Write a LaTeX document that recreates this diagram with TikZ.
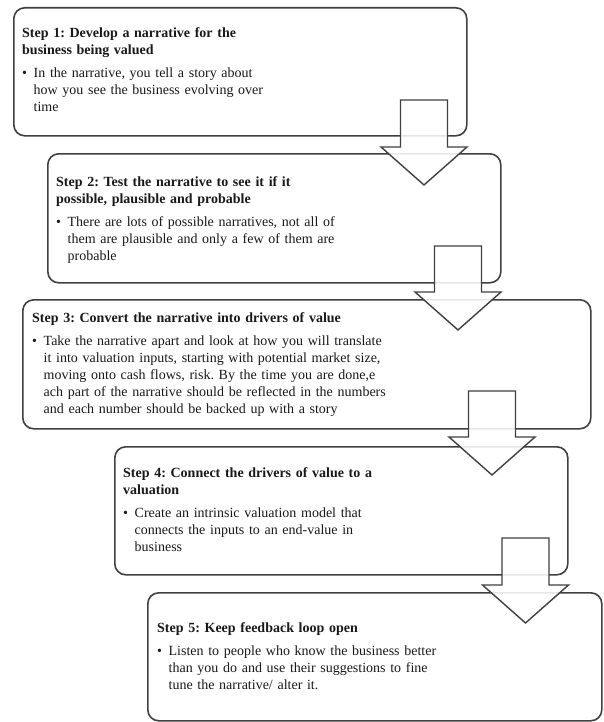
\documentclass[tikz,border=0pt]{standalone}
\usepackage{fontspec}
\setmainfont{Liberation Serif}
\frenchspacing
\newcommand{\flowarrow}[4]{% name, cx, top, tip y
  \coordinate (#1) at (#2,#4);
  \draw[flowarr] (#2-23.5,#3) -- (#2+23.5,#3) -- (#2+23.5,#4-38) -- (#2+43,#4-38)
    -- (#1) -- (#2-43,#4-38) -- (#2-23.5,#4-38) -- cycle;}
\newcommand{\bul}{\makebox[11.5bp][l]{\textbullet}}
\newcommand{\ind}{\hspace*{11.5bp}}
\begin{document}
\begin{tikzpicture}[x=1bp,y=-1bp,
  stepbox/.style={draw=black!75, line width=1.6bp, rounded corners=11bp, inner sep=0pt, anchor=north west},
  flowarr/.style={draw=black!75, line width=1.4bp, fill=white, fill opacity=0.88, line join=miter},
  txt/.style={anchor=north west, inner sep=0pt, text width=570bp, align=left, text=black!90,
    font=\fontsize{14bp}{17bp}\selectfont}]
\useasboundingbox (0,0) rectangle (604,722);
\fill[white] (0,0) rectangle (604,722);

\node[stepbox, minimum width=453bp, minimum height=128bp] (b1) at (13,7) {};
\node[stepbox, minimum width=453bp, minimum height=129bp] (b2) at (47,153) {};
\node[stepbox, minimum width=568bp, minimum height=129bp] (b3) at (22,299) {};
\node[stepbox, minimum width=453bp, minimum height=128bp] (b4) at (114,446) {};
\node[stepbox, minimum width=454bp, minimum height=128bp] (b5) at (147,592) {};

\node[txt] (t1) at (22,27.5) {\textbf{Step 1: Develop a narrative for the}\\
\textbf{business being valued}\\[6bp]
\bul In the narrative, you tell a story about\\
\ind how you see the business evolving over\\
\ind time};

\node[txt] (t2) at (56,176) {\textbf{Step 2: Test the narrative to see it if it}\\
\textbf{possible, plausible and probable}\\[6bp]
\bul There are lots of possible narratives, not all of\\
\ind them are plausible and only a few of them are\\
\ind probable};

\node[txt] (t3) at (32,312) {\textbf{Step 3: Convert the narrative into drivers of value}\\[6bp]
\bul Take the narrative apart and look at how you will translate\\
\ind it into valuation inputs, starting with potential market size,\\
\ind moving onto cash flows, risk. By the time you are done,e\\
\ind ach part of the narrative should be reflected in the numbers\\
\ind and each number should be backed up with a story};

\node[txt] (t4) at (123,467) {\textbf{Step 4: Connect the drivers of value to a}\\
\textbf{valuation}\\[6bp]
\bul Create an intrinsic valuation model that\\
\ind connects the inputs to an end-value in\\
\ind business};

\node[txt] (t5) at (157,622) {\textbf{Step 5: Keep feedback loop open}\\[6bp]
\bul Listen to people who know the business better\\
\ind than you do and use their suggestions to fine\\
\ind tune the narrative/ alter it.};

\flowarrow{a1}{424}{100}{185}
\flowarrow{a2}{458}{246}{330}
\flowarrow{a3}{492}{391}{475}
\flowarrow{a4}{525.5}{538}{623}
\end{tikzpicture}
\end{document}
